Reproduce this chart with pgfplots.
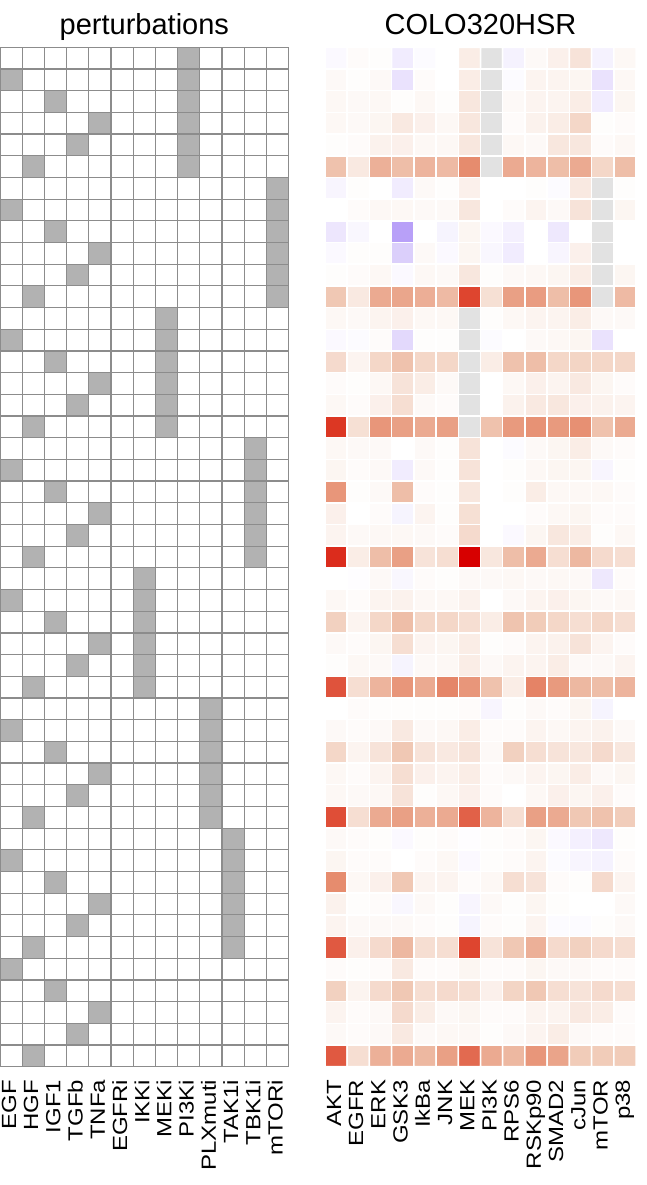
\documentclass[border=0pt]{standalone}
\usepackage{pgfplots}
\pgfplotsset{compat=1.18}
\usepackage{pgfplotstable}
\usepackage{fontspec}
\setmainfont{Liberation Sans}
\definecolor{gridgray}{RGB}{140,140,140}

% perturbation design: 47 rows x 13 columns (EGF,HGF,IGF1,TGFb,TNFa,EGFRi,IKKi,MEKi,PI3Ki,PLXmuti,TAK1i,TBK1i,mTORi)
\pgfplotstableread[row sep=\\]{
v\\
0\\0\\0\\0\\0\\0\\0\\0\\1\\0\\0\\0\\0\\
1\\0\\0\\0\\0\\0\\0\\0\\1\\0\\0\\0\\0\\
0\\0\\1\\0\\0\\0\\0\\0\\1\\0\\0\\0\\0\\
0\\0\\0\\0\\1\\0\\0\\0\\1\\0\\0\\0\\0\\
0\\0\\0\\1\\0\\0\\0\\0\\1\\0\\0\\0\\0\\
0\\1\\0\\0\\0\\0\\0\\0\\1\\0\\0\\0\\0\\
0\\0\\0\\0\\0\\0\\0\\0\\0\\0\\0\\0\\1\\
1\\0\\0\\0\\0\\0\\0\\0\\0\\0\\0\\0\\1\\
0\\0\\1\\0\\0\\0\\0\\0\\0\\0\\0\\0\\1\\
0\\0\\0\\0\\1\\0\\0\\0\\0\\0\\0\\0\\1\\
0\\0\\0\\1\\0\\0\\0\\0\\0\\0\\0\\0\\1\\
0\\1\\0\\0\\0\\0\\0\\0\\0\\0\\0\\0\\1\\
0\\0\\0\\0\\0\\0\\0\\1\\0\\0\\0\\0\\0\\
1\\0\\0\\0\\0\\0\\0\\1\\0\\0\\0\\0\\0\\
0\\0\\1\\0\\0\\0\\0\\1\\0\\0\\0\\0\\0\\
0\\0\\0\\0\\1\\0\\0\\1\\0\\0\\0\\0\\0\\
0\\0\\0\\1\\0\\0\\0\\1\\0\\0\\0\\0\\0\\
0\\1\\0\\0\\0\\0\\0\\1\\0\\0\\0\\0\\0\\
0\\0\\0\\0\\0\\0\\0\\0\\0\\0\\0\\1\\0\\
1\\0\\0\\0\\0\\0\\0\\0\\0\\0\\0\\1\\0\\
0\\0\\1\\0\\0\\0\\0\\0\\0\\0\\0\\1\\0\\
0\\0\\0\\0\\1\\0\\0\\0\\0\\0\\0\\1\\0\\
0\\0\\0\\1\\0\\0\\0\\0\\0\\0\\0\\1\\0\\
0\\1\\0\\0\\0\\0\\0\\0\\0\\0\\0\\1\\0\\
0\\0\\0\\0\\0\\0\\1\\0\\0\\0\\0\\0\\0\\
1\\0\\0\\0\\0\\0\\1\\0\\0\\0\\0\\0\\0\\
0\\0\\1\\0\\0\\0\\1\\0\\0\\0\\0\\0\\0\\
0\\0\\0\\0\\1\\0\\1\\0\\0\\0\\0\\0\\0\\
0\\0\\0\\1\\0\\0\\1\\0\\0\\0\\0\\0\\0\\
0\\1\\0\\0\\0\\0\\1\\0\\0\\0\\0\\0\\0\\
0\\0\\0\\0\\0\\0\\0\\0\\0\\1\\0\\0\\0\\
1\\0\\0\\0\\0\\0\\0\\0\\0\\1\\0\\0\\0\\
0\\0\\1\\0\\0\\0\\0\\0\\0\\1\\0\\0\\0\\
0\\0\\0\\0\\1\\0\\0\\0\\0\\1\\0\\0\\0\\
0\\0\\0\\1\\0\\0\\0\\0\\0\\1\\0\\0\\0\\
0\\1\\0\\0\\0\\0\\0\\0\\0\\1\\0\\0\\0\\
0\\0\\0\\0\\0\\0\\0\\0\\0\\0\\1\\0\\0\\
1\\0\\0\\0\\0\\0\\0\\0\\0\\0\\1\\0\\0\\
0\\0\\1\\0\\0\\0\\0\\0\\0\\0\\1\\0\\0\\
0\\0\\0\\0\\1\\0\\0\\0\\0\\0\\1\\0\\0\\
0\\0\\0\\1\\0\\0\\0\\0\\0\\0\\1\\0\\0\\
0\\1\\0\\0\\0\\0\\0\\0\\0\\0\\1\\0\\0\\
1\\0\\0\\0\\0\\0\\0\\0\\0\\0\\0\\0\\0\\
0\\0\\1\\0\\0\\0\\0\\0\\0\\0\\0\\0\\0\\
0\\0\\0\\0\\1\\0\\0\\0\\0\\0\\0\\0\\0\\
0\\0\\0\\1\\0\\0\\0\\0\\0\\0\\0\\0\\0\\
0\\1\\0\\0\\0\\0\\0\\0\\0\\0\\0\\0\\0\\
}\pertdata

% COLO320HSR response: 47 rows x 14 readouts (AKT,EGFR,ERK,GSK3,IkBa,JNK,MEK,PI3K,RPS6,RSKp90,SMAD2,cJun,mTOR,p38); 1.1 = not available
\pgfplotstableread[row sep=\\]{
v\\
-0.03\\0.02\\0.01\\-0.1\\-0.02\\0\\0.1\\1.1\\-0.07\\0.03\\0.08\\0.15\\-0.07\\0.04\\
0.03\\0.01\\0.03\\-0.15\\0.02\\0\\0.1\\1.1\\-0.02\\0.06\\0.06\\0.05\\-0.15\\0.04\\
0.04\\0.03\\0.04\\0.01\\0.04\\0.01\\0.13\\1.1\\0.03\\0.06\\0.06\\0.1\\-0.1\\0.05\\
0.04\\0.03\\0.05\\0.12\\0.08\\0.04\\0.13\\1.1\\0.02\\0.07\\0.1\\0.22\\0.01\\0.02\\
0.01\\0.02\\0.07\\0.08\\0.04\\0.04\\0.13\\1.1\\0.04\\0.03\\0.13\\0.13\\0.02\\0.04\\
0.33\\0.12\\0.42\\0.35\\0.4\\0.37\\0.6\\1.1\\0.45\\0.4\\0.35\\0.45\\0.22\\0.35\\
-0.05\\0.01\\0\\-0.1\\0.03\\0.01\\0.08\\0\\0\\0.01\\-0.02\\0.12\\1.1\\0.01\\
0\\0.02\\0.04\\0.04\\0.03\\0.03\\0.13\\0\\0.02\\0.06\\0.03\\0.15\\1.1\\0.05\\
-0.13\\-0.04\\0\\-0.5\\0\\-0.06\\0.05\\-0.03\\-0.08\\0\\-0.12\\0\\1.1\\0\\
-0.03\\0.01\\0.01\\-0.25\\0.03\\-0.03\\0.05\\-0.04\\-0.1\\0\\-0.05\\0.08\\1.1\\0\\
0.01\\0.02\\0.04\\-0.03\\0.04\\0.03\\0.13\\0.01\\0.03\\0.04\\0.05\\0.1\\1.1\\0.05\\
0.3\\0.12\\0.45\\0.47\\0.43\\0.37\\0.85\\0.17\\0.5\\0.52\\0.35\\0.55\\1.1\\0.37\\
0.04\\0.03\\0.06\\0.08\\0.04\\0.04\\1.1\\0.01\\0.04\\0.06\\0.06\\0.1\\0.03\\0.03\\
-0.03\\-0.02\\0.02\\-0.2\\0.01\\0.01\\1.1\\-0.02\\0\\0.03\\0.04\\0.05\\-0.15\\0\\
0.2\\0.06\\0.22\\0.33\\0.22\\0.22\\1.1\\0.1\\0.33\\0.35\\0.22\\0.23\\0.22\\0.22\\
0.02\\0.01\\0.04\\0.15\\0.1\\0.03\\1.1\\0\\0.04\\0.08\\0.06\\0.12\\0.05\\0.02\\
0.04\\0.02\\0.08\\0.18\\0.03\\0.02\\1.1\\0\\0.07\\0.12\\0.13\\0.08\\0.07\\0.06\\
0.9\\0.17\\0.55\\0.5\\0.45\\0.5\\1.1\\0.33\\0.53\\0.57\\0.53\\0.58\\0.33\\0.45\\
0.04\\0.03\\0.03\\0\\0.03\\0.01\\0.15\\0\\-0.02\\0.03\\0.05\\0.1\\0.03\\0.02\\
0.05\\0.02\\0.03\\-0.1\\0.03\\0.01\\0.15\\0\\0.01\\0.04\\0.05\\0.05\\-0.05\\0.01\\
0.55\\0.01\\0.03\\0.35\\0.02\\0.01\\0.13\\0\\0.01\\0.1\\0.04\\0.04\\0.04\\0.02\\
0.08\\0\\0.02\\-0.06\\0.06\\0.01\\0.17\\0\\0\\0.02\\0.04\\0.05\\0.02\\0.02\\
0.06\\0.03\\0.04\\0.04\\0.03\\0.02\\0.2\\0\\-0.03\\0.05\\0.13\\0.1\\0.01\\0.04\\
0.92\\0.1\\0.35\\0.5\\0.15\\0.18\\1.0\\0.13\\0.35\\0.45\\0.18\\0.38\\0.2\\0.18\\
0\\-0.01\\0.03\\-0.04\\0.02\\0.01\\0.03\\0.03\\0.04\\0.03\\0.04\\0.03\\-0.12\\0.02\\
0.04\\0.02\\0.06\\0.07\\0.04\\0.04\\0.07\\0\\0.03\\0.06\\0.08\\0.05\\0.03\\0.04\\
0.25\\0.06\\0.22\\0.35\\0.22\\0.22\\0.18\\0.1\\0.32\\0.28\\0.22\\0.18\\0.22\\0.18\\
0.03\\0.02\\0.05\\0.18\\0.06\\0.05\\0.1\\0.01\\0.02\\0.06\\0.07\\0.15\\0.06\\0.02\\
0.01\\0.04\\0.03\\-0.06\\0.03\\0.04\\0.1\\0.03\\0.06\\0.06\\0.1\\0.03\\0.03\\0.06\\
0.8\\0.18\\0.4\\0.55\\0.45\\0.62\\0.55\\0.33\\0.1\\0.63\\0.53\\0.38\\0.35\\0.4\\
0\\0.02\\0.01\\0.01\\0.01\\0.01\\0.02\\-0.05\\0.01\\0.03\\0.02\\0.05\\-0.06\\0\\
0.03\\0.02\\0.03\\0.12\\0.03\\0.04\\0.1\\0.02\\0.02\\0.06\\0.04\\0.06\\0.07\\0.03\\
0.22\\0.06\\0.15\\0.3\\0.15\\0.12\\0.15\\0.03\\0.25\\0.18\\0.15\\0.13\\0.2\\0.13\\
0.04\\0.02\\0.06\\0.18\\0.08\\0.06\\0.1\\0.02\\0.03\\0.06\\0.05\\0.1\\0.03\\0.05\\
0.04\\0.03\\0.04\\0.15\\0.01\\0.04\\0.08\\0.02\\0\\0.04\\0.08\\0.05\\0.08\\0.02\\
0.82\\0.18\\0.45\\0.5\\0.42\\0.45\\0.75\\0.4\\0.18\\0.5\\0.45\\0.3\\0.33\\0.27\\
0.03\\0.02\\0.01\\-0.03\\0.01\\0.02\\-0.01\\0.01\\0.02\\0.05\\-0.03\\-0.08\\-0.12\\0.01\\
0.05\\0.02\\0.02\\0\\0.02\\0.04\\-0.03\\0.01\\0.02\\0.06\\-0.02\\-0.05\\-0.07\\0.02\\
0.6\\0.04\\0.08\\0.3\\0.06\\0.06\\0.02\\0.04\\0.18\\0.15\\0.02\\0.01\\0.2\\0.06\\
0.07\\0.01\\0.02\\-0.04\\0.03\\0.01\\-0.05\\0.03\\0.01\\0.05\\0.01\\0\\0\\0.03\\
0.06\\0.03\\0.03\\0.03\\0.02\\0.01\\-0.06\\0.02\\0.01\\0.06\\-0.02\\-0.02\\0.01\\0.03\\
0.78\\0.08\\0.2\\0.38\\0.18\\0.18\\0.85\\0.15\\0.3\\0.42\\0.2\\0.25\\0.2\\0.18\\
0.02\\0.01\\0.02\\0.12\\0.02\\0.02\\0.05\\0.02\\0.02\\0.05\\0.03\\0.03\\0.02\\0.02\\
0.25\\0.06\\0.2\\0.3\\0.18\\0.2\\0.18\\0.08\\0.23\\0.3\\0.18\\0.15\\0.2\\0.18\\
0.06\\0.02\\0.03\\0.2\\0.1\\0.03\\0.05\\0.02\\0.02\\0.06\\0.06\\0.12\\0.1\\0.02\\
0.03\\0.02\\0.03\\0.12\\0.03\\0.04\\0.04\\0.01\\0.03\\0.06\\0.1\\0.03\\0.02\\0.02\\
0.78\\0.18\\0.42\\0.45\\0.38\\0.5\\0.72\\0.45\\0.38\\0.55\\0.48\\0.28\\0.28\\0.28\\
}\respdata

\pgfplotsset{
  hmbase/.style={
    scale only axis,
    height=1019.4pt,
    ymin=-0.5, ymax=46.5, y dir=reverse,
    ytick=\empty,
    axis line style={draw=none},
    major tick length=0pt,
    clip=false,
    xticklabel style={font=\fontsize{20.5}{24}\selectfont, rotate=90, anchor=base east, inner sep=0pt, xshift=-13pt, yshift=-4.9pt, xscale=1.17},
    every axis title/.style={at={(0.5,1)}, anchor=base, yshift=13.3pt, inner sep=0pt, font=\fontsize{29}{34}\selectfont},
  }
}

\begin{document}
\begin{tikzpicture}
\path[use as bounding box] (0pt,0pt) rectangle (647pt,-1185pt);

\begin{axis}[hmbase,
  at={(0pt,-47.3pt)}, anchor=north west,
  width=288.7pt,
  xmin=-0.5, xmax=12.5,
  xtick={0,...,12},
  xticklabels={EGF,HGF,IGF1,TGFb,TNFa,EGFRi,IKKi,MEKi,PI3Ki,PLXmuti,TAK1i,TBK1i,mTORi},
  title={perturbations},
  colormap={pert}{rgb255(0pt)=(255,255,255); rgb255(1pt)=(178,178,178)},
  point meta min=0, point meta max=1,
]
\addplot[matrix plot, mesh/cols=13, point meta=\thisrow{v}, shader=faceted, faceted color=gridgray, line width=1.2pt]
  table[x index=0, y index=0, x expr={mod(\coordindex,13)}, y expr={floor((\coordindex+0.5)/13)}] {\pertdata};
\end{axis}

\begin{axis}[hmbase,
  at={(325pt,-47.3pt)}, anchor=north west,
  width=311pt,
  xmin=-0.5, xmax=13.5,
  xtick={0,...,13},
  xticklabels={AKT,EGFR,ERK,GSK3,IkBa,JNK,MEK,PI3K,RPS6,RSKp90,SMAD2,cJun,mTOR,p38},
  title={COLO320HSR},
  colormap={resp}{rgb255(0pt)=(110,70,240); rgb255(50pt)=(184,160,248); rgb255(100pt)=(255,255,255); rgb255(130pt)=(240,200,180); rgb255(160pt)=(230,140,110); rgb255(190pt)=(220,55,35); rgb255(200pt)=(215,0,0); rgb255(201pt)=(226,226,226); rgb255(210pt)=(226,226,226)},
  point meta min=-1, point meta max=1.1,
]
\addplot[matrix plot, mesh/cols=14, point meta=\thisrow{v}, shader=faceted, faceted color=white, line width=1.5pt]
  table[x index=0, y index=0, x expr={mod(\coordindex,14)}, y expr={floor((\coordindex+0.5)/14)}] {\respdata};
\end{axis}
\end{tikzpicture}
\end{document}
